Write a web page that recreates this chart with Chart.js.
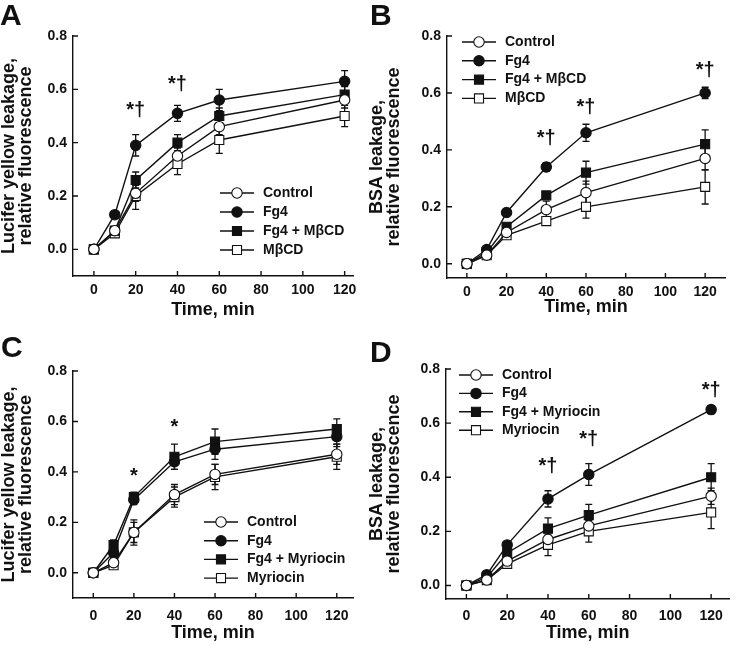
<!DOCTYPE html>
<html>
<head>
<meta charset="utf-8">
<script src="https://cdn.jsdelivr.net/npm/chart.js@4.4.1/dist/chart.umd.min.js"></script>
<style>
  html, body { margin: 0; padding: 0; background: #fff; }
  body { width: 737px; height: 646px; position: relative; overflow: hidden; }
  canvas { position: absolute; }
</style>
</head>
<body>
<canvas id="panelA" width="368" height="320" style="left:0;top:0"></canvas>
<canvas id="panelB" width="369" height="320" style="left:368px;top:0"></canvas>
<canvas id="panelC" width="368" height="326" style="left:0;top:320px"></canvas>
<canvas id="panelD" width="369" height="326" style="left:368px;top:320px"></canvas>
<script>
// Datos (tiempo en min, fluorescencia relativa)
const timeMin = [0, 10, 20, 40, 60, 120];
const xTicks = [0, 20, 40, 60, 80, 100, 120];
const yTicks = [0, 0.2, 0.4, 0.6, 0.8];

// A - Lucifer yellow, MβCD
const labelsMbcd = ['Control', 'Fg4', 'Fg4 + MβCD', 'MβCD'];
const aControl = [0, 0.07, 0.21, 0.35, 0.46, 0.56];
const aControlSem = [0, 0.01, 0.03, 0.03, 0.03, 0.03];
const aFg4 = [0, 0.13, 0.39, 0.51, 0.56, 0.63];
const aFg4Sem = [0, 0.01, 0.04, 0.03, 0.04, 0.04];
const aFg4Mbcd = [0, 0.07, 0.26, 0.40, 0.50, 0.58];
const aFg4MbcdSem = [0, 0.01, 0.03, 0.03, 0.03, 0.03];
const aMbcd = [0, 0.06, 0.20, 0.32, 0.41, 0.50];
const aMbcdSem = [0, 0.01, 0.05, 0.04, 0.05, 0.04];
const aMarkX = [20, 40];
const aMarkY = [0.52, 0.62];
const aMarkText = ['*†', '*†'];

// B - BSA, MβCD
const bControl = [0, 0.03, 0.11, 0.19, 0.25, 0.37];
const bControlSem = [0, 0.01, 0.01, 0.03, 0.04, 0.04];
const bFg4 = [0, 0.05, 0.18, 0.34, 0.46, 0.60];
const bFg4Sem = [0, 0.01, 0.01, 0.015, 0.03, 0.02];
const bFg4Mbcd = [0, 0.04, 0.13, 0.24, 0.32, 0.42];
const bFg4MbcdSem = [0, 0.01, 0.01, 0.01, 0.04, 0.05];
const bMbcd = [0, 0.03, 0.10, 0.15, 0.20, 0.27];
const bMbcdSem = [0, 0.01, 0.01, 0.01, 0.04, 0.06];
const bMarkX = [40, 60, 120];
const bMarkY = [0.44, 0.55, 0.68];
const bMarkText = ['*†', '*†', '*†'];

// C - Lucifer yellow, Myriocin
const labelsMyr = ['Control', 'Fg4', 'Fg4 + Myriocin', 'Myriocin'];
const cControl = [0, 0.04, 0.16, 0.31, 0.39, 0.47];
const cControlSem = [0, 0.01, 0.04, 0.04, 0.04, 0.04];
const cFg4 = [0, 0.08, 0.29, 0.44, 0.49, 0.54];
const cFg4Sem = [0, 0.02, 0.02, 0.03, 0.04, 0.04];
const cFg4Myr = [0, 0.11, 0.30, 0.46, 0.52, 0.57];
const cFg4MyrSem = [0, 0.02, 0.02, 0.05, 0.05, 0.04];
const cMyr = [0, 0.03, 0.16, 0.30, 0.38, 0.46];
const cMyrSem = [0, 0.01, 0.05, 0.04, 0.05, 0.05];
const cMarkX = [20, 40];
const cMarkY = [0.38, 0.575];
const cMarkText = ['*', '*'];

// D - BSA, Myriocin
const dControl = [0, 0.02, 0.09, 0.17, 0.22, 0.33];
const dControlSem = [0, 0.005, 0.01, 0.03, 0.03, 0.03];
const dFg4 = [0, 0.04, 0.15, 0.32, 0.41, 0.65];
const dFg4Sem = [0, 0.005, 0.01, 0.03, 0.04, 0.015];
const dFg4Myr = [0, 0.03, 0.12, 0.21, 0.26, 0.40];
const dFg4MyrSem = [0, 0.005, 0.01, 0.04, 0.04, 0.05];
const dMyr = [0, 0.02, 0.08, 0.15, 0.20, 0.27];
const dMyrSem = [0, 0.005, 0.01, 0.04, 0.04, 0.06];
const dMarkX = [40, 60, 120];
const dMarkY = [0.44, 0.54, 0.72];
const dMarkText = ['*†', '*†', '*†'];

const FONT = "'Liberation Sans', Arial, Helvetica, sans-serif";
const INK = '#111';

// Estilo de marcador por serie: circulo abierto, circulo lleno, cuadro lleno, cuadro abierto
const markers = [
  { style: 'circle', fill: '#fff', r: 5.2 },
  { style: 'circle', fill: INK, r: 5.2 },
  { style: 'rect', fill: INK, r: 6.4 },
  { style: 'rect', fill: '#fff', r: 6.4 }
];

function makeDatasets(labels, series, sems) {
  return series.map((vals, i) => ({
    label: labels[i],
    data: timeMin.map((t, j) => ({ x: t, y: vals[j] })),
    sem: sems[i],
    showLine: true,
    borderColor: INK,
    borderWidth: 1.4,
    pointStyle: markers[i].style,
    pointRadius: markers[i].r,
    pointBackgroundColor: markers[i].fill,
    pointBorderColor: INK,
    pointBorderWidth: 1.1
  }));
}

// Barras de error (SEM)
const errorBars = {
  id: 'errorBars',
  beforeDatasetsDraw(chart) {
    const { ctx, scales: { x, y } } = chart;
    ctx.save();
    ctx.strokeStyle = INK;
    ctx.lineWidth = 1.3;
    chart.data.datasets.forEach(ds => {
      ds.data.forEach((p, j) => {
        const e = ds.sem[j];
        if (!e) return;
        const px = x.getPixelForValue(p.x);
        const y1 = y.getPixelForValue(p.y + e);
        const y2 = y.getPixelForValue(p.y - e);
        ctx.beginPath();
        ctx.moveTo(px, y1); ctx.lineTo(px, y2);
        ctx.moveTo(px - 3.5, y1); ctx.lineTo(px + 3.5, y1);
        ctx.moveTo(px - 3.5, y2); ctx.lineTo(px + 3.5, y2);
        ctx.stroke();
      });
    });
    ctx.restore();
  }
};

// Marcas de significancia, letra del panel y leyenda
const extras = {
  id: 'extras',
  afterDraw(chart) {
    const { ctx, scales: { x, y } } = chart;
    const o = chart.options.plugins.extras;
    ctx.save();

    // ticks hacia adentro
    ctx.strokeStyle = INK;
    ctx.lineWidth = 1.4;
    ctx.beginPath();
    xTicks.forEach(v => {
      const px = x.getPixelForValue(v);
      ctx.moveTo(px, y.bottom); ctx.lineTo(px, y.bottom - 5);
    });
    yTicks.forEach(v => {
      const py = y.getPixelForValue(v);
      ctx.moveTo(x.left, py); ctx.lineTo(x.left + 5, py);
    });
    ctx.stroke();

    // significancia
    ctx.fillStyle = INK;
    ctx.font = 'bold 20px ' + FONT;
    ctx.textAlign = 'center';
    ctx.textBaseline = 'middle';
    o.markX.forEach((mx, i) => {
      ctx.fillText(o.markText[i], x.getPixelForValue(mx), y.getPixelForValue(o.markY[i]));
    });

    // letra
    ctx.font = 'bold 30px ' + FONT;
    ctx.textAlign = 'left';
    ctx.textBaseline = 'alphabetic';
    ctx.fillText(o.letter, o.letterX, o.letterY);

    // leyenda
    const lg = o.legend;
    ctx.font = 'bold 14px ' + FONT;
    ctx.textBaseline = 'middle';
    chart.data.datasets.forEach((ds, i) => {
      const ly = lg.y + i * lg.gap;
      const cx = lg.x + 17;
      ctx.strokeStyle = INK;
      ctx.lineWidth = 1.4;
      ctx.beginPath();
      ctx.moveTo(lg.x, ly); ctx.lineTo(lg.x + 34, ly);
      ctx.stroke();
      ctx.fillStyle = markers[i].fill;
      ctx.lineWidth = 1.1;
      ctx.beginPath();
      if (markers[i].style === 'circle') {
        ctx.arc(cx, ly, markers[i].r, 0, Math.PI * 2);
      } else {
        const s = markers[i].r * Math.SQRT1_2;
        ctx.rect(cx - s, ly - s, 2 * s, 2 * s);
      }
      ctx.fill();
      ctx.stroke();
      ctx.fillStyle = INK;
      ctx.fillText(ds.label, lg.x + 43, ly);
    });
    ctx.restore();
  }
};

function render(canvasId, p) {
  const canvas = document.getElementById(canvasId);
  if (!canvas) return;
  return new Chart(canvas.getContext('2d'), {
    type: 'scatter',
    data: { datasets: p.datasets },
    plugins: [errorBars, extras],
    options: {
      responsive: false,
      animation: false,
      layout: { padding: { left: 0, top: p.top, right: p.right, bottom: 0 } },
      plugins: {
        legend: { display: false },
        tooltip: { enabled: false },
        extras: {
          markX: p.markX, markY: p.markY, markText: p.markText,
          letter: p.letter, letterX: p.letterX, letterY: p.letterY,
          legend: p.legend
        }
      },
      scales: {
        x: {
          type: 'linear',
          min: p.xMin,
          max: p.xMax,
          afterBuildTicks: s => { s.ticks = xTicks.map(v => ({ value: v })); },
          afterFit: s => { s.height = p.xH; },
          grid: { display: false, drawTicks: false },
          border: { display: true, color: INK, width: 1.4 },
          ticks: {
            color: INK, padding: p.xTickPad, maxRotation: 0, autoSkip: false,
            font: { family: FONT, size: 14, weight: 'bold' }
          },
          title: {
            display: true, text: 'Time, min', color: INK,
            padding: { top: 0, bottom: p.xTitlePad },
            font: { family: FONT, size: 18, weight: 'bold', lineHeight: 1.0 }
          }
        },
        y: {
          min: p.yMin,
          max: 0.8,
          afterBuildTicks: s => { s.ticks = yTicks.map(v => ({ value: v })); },
          afterFit: s => { s.width = p.yW; },
          grid: { display: false, drawTicks: false },
          border: { display: true, color: INK, width: 1.4 },
          ticks: {
            color: INK, padding: 6,
            font: { family: FONT, size: 14, weight: 'bold' },
            callback: v => v.toFixed(1)
          },
          title: {
            display: true, text: p.yTitle, color: INK,
            padding: { top: 1, bottom: 0 },
            font: { family: FONT, size: 18, weight: 'bold', lineHeight: 0.93 }
          }
        }
      }
    }
  });
}

render('panelA', {
  datasets: makeDatasets(labelsMbcd, [aControl, aFg4, aFg4Mbcd, aMbcd],
    [aControlSem, aFg4Sem, aFg4MbcdSem, aMbcdSem]),
  yTitle: ['Lucifer yellow leakage,', 'relative fluorescence'],
  yMin: -0.1, xMin: -10, xMax: 124,
  top: 36, right: 15, yW: 73, xH: 44, xTickPad: 6, xTitlePad: 1,
  markX: aMarkX, markY: aMarkY, markText: aMarkText,
  letter: 'A', letterX: 0, letterY: 25,
  legend: { x: 220, y: 193, gap: 19 }
});

render('panelB', {
  datasets: makeDatasets(labelsMbcd, [bControl, bFg4, bFg4Mbcd, bMbcd],
    [bControlSem, bFg4Sem, bFg4MbcdSem, bMbcdSem]),
  yTitle: ['BSA leakage,', 'relative fluorescence'],
  yMin: -0.05, xMin: -10, xMax: 130,
  top: 36, right: 12, yW: 79, xH: 42, xTickPad: 6, xTitlePad: 4,
  markX: bMarkX, markY: bMarkY, markText: bMarkText,
  letter: 'B', letterX: 2, letterY: 25,
  legend: { x: 94, y: 42, gap: 18.8 }
});

render('panelC', {
  datasets: makeDatasets(labelsMyr, [cControl, cFg4, cFg4Myr, cMyr],
    [cControlSem, cFg4Sem, cFg4MyrSem, cMyrSem]),
  yTitle: ['Lucifer yellow leakage,', 'relative fluorescence'],
  yMin: -0.1, xMin: -10, xMax: 128,
  top: 51, right: 15, yW: 73, xH: 48, xTickPad: 10, xTitlePad: 4,
  markX: cMarkX, markY: cMarkY, markText: cMarkText,
  letter: 'C', letterX: 1, letterY: 37,
  legend: { x: 204, y: 202, gap: 18.7 }
});

render('panelD', {
  datasets: makeDatasets(labelsMyr, [dControl, dFg4, dFg4Myr, dMyr],
    [dControlSem, dFg4Sem, dFg4MyrSem, dMyrSem]),
  yTitle: ['BSA leakage,', 'relative fluorescence'],
  yMin: -0.05, xMin: -10, xMax: 129,
  top: 49, right: 3, yW: 78, xH: 47, xTickPad: 9, xTitlePad: 4,
  markX: dMarkX, markY: dMarkY, markText: dMarkText,
  letter: 'D', letterX: 2, letterY: 42,
  legend: { x: 91, y: 55, gap: 18.4 }
});
</script>
</body>
</html>
